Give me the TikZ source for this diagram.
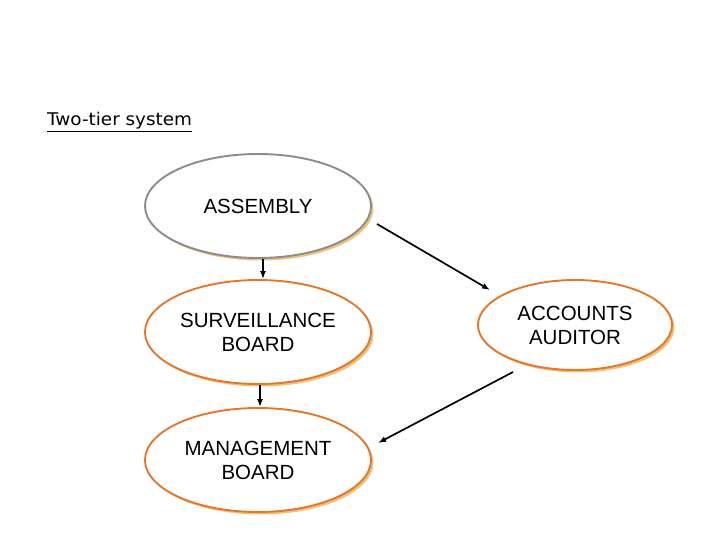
\documentclass[tikz,border=0pt]{standalone}
\usepackage{fontspec}
\setmainfont{Liberation Sans}
\newfontfamily\titlefont{DejaVu Sans}
\usetikzlibrary{shadows,shapes.geometric,arrows.meta}
\definecolor{ograng}{HTML}{E3782B}
\definecolor{shadowtan}{HTML}{EFC27A}
\tikzset{
  ell/.style={ellipse, draw=ograng, line width=1.9pt, fill=white, minimum width=226pt, minimum height=104pt,
    font=\fontsize{20.5}{24}\selectfont, align=center, inner sep=0pt,
    drop shadow={shadow xshift=2.5pt, shadow yshift=-2.5pt, fill=shadowtan, opacity=1}},
  grayell/.style={ell, draw=gray!90},
  arr/.style={-{Latex[length=8pt,width=6pt]}, line width=1.7pt, black},
}
\begin{document}
\begin{tikzpicture}[x=1pt,y=-1pt]
\useasboundingbox[fill=white] (0,0) rectangle (720,540);
\node[anchor=base west, inner sep=0pt, xscale=1.05, font=\titlefont\fontsize{17.5}{20}\selectfont] (title) at (47,126) {\underline{Two-tier system}};
\node[grayell] (asm) at (258,206) {ASSEMBLY};
\node[ell] (sb) at (258,332) {SURVEILLANCE\\BOARD};
\node[ell] (mb) at (258,460) {MANAGEMENT\\BOARD};
\node[ell, minimum width=194pt, minimum height=90pt] (aa) at (575,325) {ACCOUNTS\\AUDITOR};
\coordinate (a1) at (377,224);
\coordinate (a2) at (490,290);
\coordinate (b1) at (513,372);
\coordinate (b2) at (378,443);
\draw[arr] (asm.south -| 263,0) -- (sb.north -| 263,0);
\draw[arr] (sb.south -| 260,0) -- (mb.north -| 260,0);
\draw[arr] (a1) -- (a2);
\draw[arr] (b1) -- (b2);
\end{tikzpicture}
\end{document}
